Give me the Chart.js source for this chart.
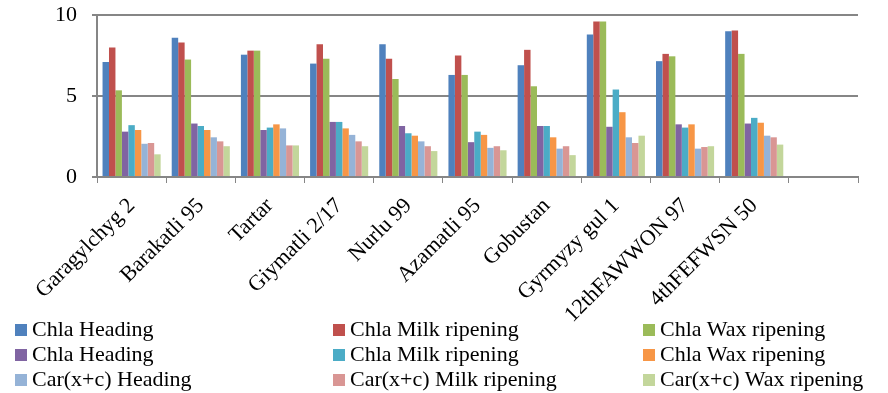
<!DOCTYPE html>
<html>
<head>
<meta charset="utf-8">
<script src="https://cdn.jsdelivr.net/npm/chart.js@4/dist/chart.umd.min.js"></script>
<style>
  html, body { margin: 0; padding: 0; background: #fff; }
  #wrap { position: relative; width: 888px; height: 393px; }
  #myChart { position: absolute; left: 0; top: 0; }
  #legend { position: absolute; left: 0; top: 316px; width: 888px; font-family: "Liberation Serif", "Times New Roman", serif; font-size: 22px; color: #000; }
  .item { position: absolute; white-space: nowrap; line-height: 25px; }
  .box { display: inline-block; width: 12px; height: 12px; margin-right: 5px; vertical-align: 0px; }
</style>
</head>
<body>
<div id="wrap">
  <canvas id="myChart" width="888" height="393"></canvas>
  <div id="legend"></div>
</div>
<script>
// categories (last slot is empty, as in the original chart)
const aLabels = ['Garagylchyg 2', 'Barakatli 95', 'Tartar', 'Giymatli 2/17', 'Nurlu 99',
                 'Azamatli 95', 'Gobustan', 'Gyrmyzy gul 1', '12thFAWWON 97', '4thFEFWSN 50', ''];

const chlaHeading    = [7.1, 8.6, 7.55, 7.0, 8.2, 6.3, 6.9, 8.8, 7.15, 9.0];
const chlaMilk       = [8.0, 8.3, 7.8, 8.2, 7.3, 7.5, 7.85, 9.6, 7.6, 9.05];
const chlaWax        = [5.35, 7.25, 7.8, 7.3, 6.05, 6.3, 5.6, 9.6, 7.45, 7.6];
const chlbHeading    = [2.8, 3.3, 2.9, 3.4, 3.15, 2.15, 3.15, 3.1, 3.25, 3.3];
const chlbMilk       = [3.2, 3.15, 3.05, 3.4, 2.7, 2.8, 3.15, 5.4, 3.05, 3.65];
const chlbWax        = [2.9, 2.9, 3.25, 3.0, 2.55, 2.6, 2.45, 4.0, 3.25, 3.35];
const carHeading     = [2.05, 2.45, 3.0, 2.6, 2.2, 1.8, 1.75, 2.45, 1.75, 2.55];
const carMilk        = [2.1, 2.2, 1.95, 2.2, 1.9, 1.9, 1.9, 2.1, 1.85, 2.45];
const carWax         = [1.4, 1.9, 1.95, 1.9, 1.6, 1.65, 1.35, 2.55, 1.9, 2.0];

const yTicks = [0, 5, 10];

const datasets = [
    { label: 'Chla Heading', data: chlaHeading, backgroundColor: '#4F81BD' },
    { label: 'Chla Milk ripening', data: chlaMilk, backgroundColor: '#C0504D' },
    { label: 'Chla Wax ripening', data: chlaWax, backgroundColor: '#9BBB59' },
    { label: 'Chla Heading', data: chlbHeading, backgroundColor: '#8064A2' },
    { label: 'Chla Milk ripening', data: chlbMilk, backgroundColor: '#4BACC6' },
    { label: 'Chla Wax ripening', data: chlbWax, backgroundColor: '#F79646' },
    { label: 'Car(x+c) Heading', data: carHeading, backgroundColor: '#95B3D7' },
    { label: 'Car(x+c) Milk ripening', data: carMilk, backgroundColor: '#D99694' },
    { label: 'Car(x+c) Wax ripening', data: carWax, backgroundColor: '#C3D69B' }
];

const serif = '"Liberation Serif", "Times New Roman", serif';

const ctx = document.getElementById('myChart').getContext('2d');
const myChart = new Chart(ctx, {
    type: 'bar',
    data: { labels: aLabels, datasets: datasets },
    options: {
        responsive: false,
        animation: false,
        layout: { padding: { left: 0, top: 15, right: 30, bottom: 0 } },
        datasets: { bar: { categoryPercentage: 0.84, barPercentage: 1.0 } },
        scales: {
            x: {
                afterFit: s => { s.height = 393 - 177; },
                grid: { display: true, drawOnChartArea: false, drawTicks: true, tickLength: 6, color: '#868686' },
                border: { color: '#868686', width: 2 },
                ticks: {
                    autoSkip: false, maxRotation: 45, minRotation: 45,
                    color: '#000', font: { family: serif, size: 22 }, padding: 10
                }
            },
            y: {
                min: 0, max: 10,
                afterFit: s => { s.width = 97; s.paddingTop = 0; s.paddingBottom = 0; },
                afterBuildTicks: s => { s.ticks = yTicks.map(v => ({ value: v })); },
                grid: { color: '#868686', lineWidth: 2, drawTicks: true, tickLength: 5 },
                border: { color: '#868686', width: 2 },
                ticks: { color: '#000', font: { family: serif, size: 22 }, padding: 15 }
            }
        },
        plugins: {
            legend: { display: false },
            tooltip: { enabled: false }
        }
    }
});

// legend in 3 columns, built from the chart's datasets
const colX = [15, 333, 643];
const rowY = [0, 25, 50];
const legendEl = document.getElementById('legend');
myChart.data.datasets.forEach((ds, i) => {
    const item = document.createElement('div');
    item.className = 'item';
    item.style.left = colX[i % 3] + 'px';
    item.style.top = rowY[Math.floor(i / 3)] + 'px';
    item.innerHTML = '<span class="box" style="background:' + ds.backgroundColor + '"></span>' + ds.label;
    legendEl.appendChild(item);
});
</script>
</body>
</html>
